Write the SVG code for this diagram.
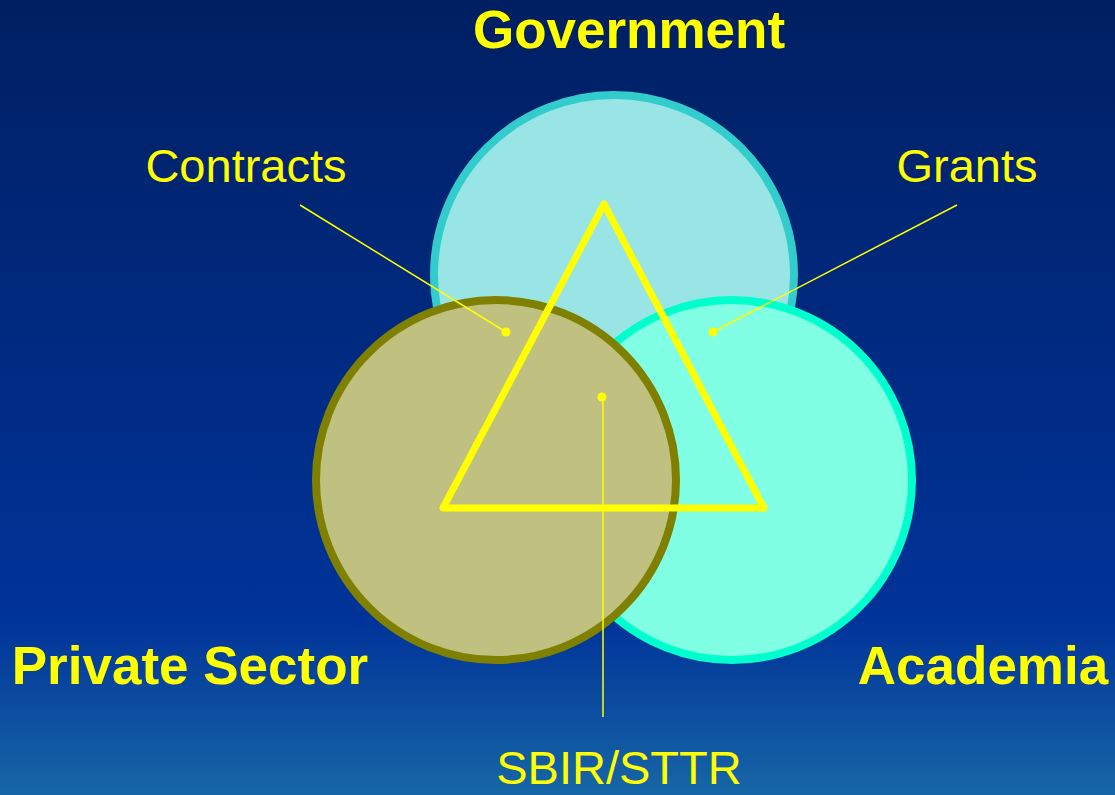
<svg xmlns="http://www.w3.org/2000/svg" width="1115" height="795" viewBox="0 0 1115 795">
<defs>
<linearGradient id="bg" x1="0" y1="0" x2="0" y2="1">
<stop offset="0" stop-color="#001F62"/>
<stop offset="0.78" stop-color="#003399"/>
<stop offset="1" stop-color="#1766A6"/>
</linearGradient>
<style>
.big{font-family:"Liberation Sans",Arial,sans-serif;font-weight:bold;font-size:53px;fill:#FFFF00}
.lbl{font-family:"Liberation Sans",Arial,sans-serif;font-size:47px;fill:#FFFF00}
.lead{stroke:#FFFF00;stroke-width:1.5;fill:none}
.dot{fill:#FFFF00}
</style>
</defs>
<rect x="0" y="0" width="1115" height="795" fill="url(#bg)"/>
<g id="government">
<circle cx="614" cy="275" r="180" fill="#99E5E5" stroke="#33CCCC" stroke-width="8"/>
<text class="big" x="629" y="48" text-anchor="middle">Government</text>
</g>
<g id="academia">
<circle cx="732" cy="480" r="180" fill="#80FFE5" stroke="#00FFCC" stroke-width="8"/>
<text class="big" x="983" y="684" text-anchor="middle">Academia</text>
</g>
<g id="private-sector">
<circle cx="496" cy="480" r="180" fill="#C0C080" stroke="#808000" stroke-width="8"/>
<text class="big" x="190" y="684" text-anchor="middle">Private Sector</text>
</g>
<g id="triangle">
<polygon points="604,204 443,508 764,508" fill="none" stroke="#FFFF00" stroke-width="7" stroke-linejoin="round"/>
</g>
<g id="connectors">
<line class="lead" x1="300" y1="205" x2="506" y2="332"/>
<circle class="dot" cx="506" cy="332" r="4.5"/>
<line class="lead" x1="957" y1="205" x2="713" y2="332"/>
<circle class="dot" cx="713" cy="332" r="4.5"/>
<line class="lead" x1="603" y1="397" x2="603" y2="717"/>
<circle class="dot" cx="602" cy="397" r="4.5"/>
</g>
<g id="contracts"><text class="lbl" x="246" y="182" text-anchor="middle">Contracts</text></g>
<g id="grants"><text class="lbl" x="967" y="182" text-anchor="middle">Grants</text></g>
<g id="sbir-sttr"><text class="lbl" x="619" y="784" text-anchor="middle">SBIR/STTR</text></g>
</svg>
